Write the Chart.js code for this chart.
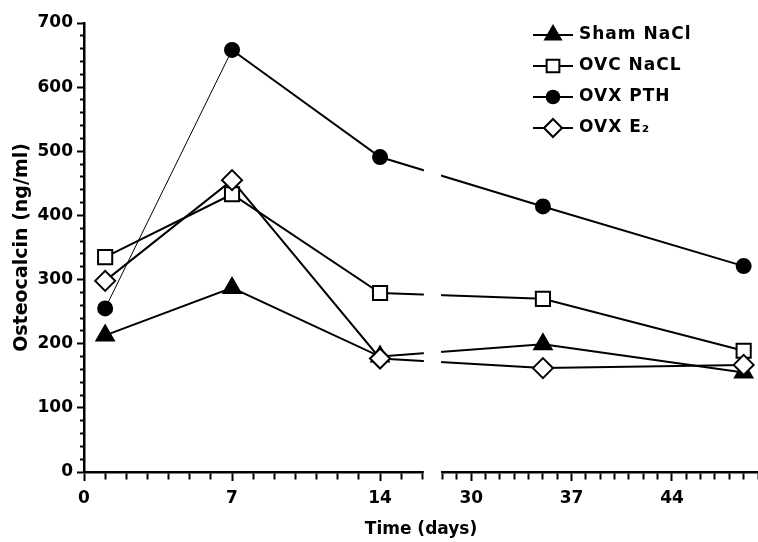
<!DOCTYPE html>
<html>
<head>
<meta charset="utf-8">
<script src="https://cdn.jsdelivr.net/npm/chart.js@4.4.1/dist/chart.umd.min.js"></script>
<style>
  html, body { margin: 0; padding: 0; background: #fff; }
  #wrap { position: relative; width: 758px; height: 542px; }
</style>
</head>
<body>
<div id="wrap"><canvas id="c"></canvas></div>
<script>
// ---- data ----
const days       = [1, 7, 14, 35, 49];
const shamNaCl   = [213, 287, 180, 199, 155];
const ovcNaCl    = [335, 433, 279, 270, 189];
const ovxPTH     = [255, 658, 491, 414, 321];
const ovxE2      = [298, 455, 177, 162, 167];
const seriesLabels = ['Sham NaCl', 'OVC NaCL', 'OVX PTH', 'OVX E\u2082'];

// axis structure
const xSegments   = [[0, 16], [28, 50]];      // broken time axis (days)
const xLabelled   = [0, 7, 14, 30, 37, 44];
const yLabelStep  = 100;
const yMinorStep  = 20;

// ---- broken linear scale ----
const SEG_FRAC = [[0, 0.502], [0.532, 1]];
function dayToDecimal(v) {
  const [a0, a1] = xSegments[0], [b0, b1] = xSegments[1];
  if (v <= a1) return SEG_FRAC[0][0] + (v - a0) / (a1 - a0) * (SEG_FRAC[0][1] - SEG_FRAC[0][0]);
  if (v >= b0) return SEG_FRAC[1][0] + (v - b0) / (b1 - b0) * (SEG_FRAC[1][1] - SEG_FRAC[1][0]);
  return SEG_FRAC[0][1] + (v - a1) / (b0 - a1) * (SEG_FRAC[1][0] - SEG_FRAC[0][1]);
}
function decimalToDay(d) {
  const [a0, a1] = xSegments[0], [b0, b1] = xSegments[1];
  if (d <= SEG_FRAC[0][1]) return a0 + d / SEG_FRAC[0][1] * (a1 - a0);
  if (d >= SEG_FRAC[1][0]) return b0 + (d - SEG_FRAC[1][0]) / (SEG_FRAC[1][1] - SEG_FRAC[1][0]) * (b1 - b0);
  return a1 + (d - SEG_FRAC[0][1]) / (SEG_FRAC[1][0] - SEG_FRAC[0][1]) * (b0 - a1);
}
class BrokenLinearScale extends Chart.LinearScale {
  getPixelForValue(value) {
    if (value === null || value === undefined || isNaN(value)) return NaN;
    return this.getPixelForDecimal(dayToDecimal(value));
  }
  getValueForPixel(pixel) {
    return decimalToDay(this.getDecimalForPixel(pixel));
  }
}
BrokenLinearScale.id = 'brokenLinear';
BrokenLinearScale.defaults = Chart.LinearScale.defaults;
Chart.register(BrokenLinearScale);

// ---- plugins ----
const gapPlugin = {
  id: 'axisGap',
  afterDatasetsDraw(chart) {
    const xs = chart.scales.x, ca = chart.chartArea, ctx = chart.ctx;
    const x1 = xs.getPixelForValue(xSegments[0][1]) + 1.5;
    const x2 = xs.getPixelForValue(xSegments[1][0]) - 1.5;
    ctx.save();
    ctx.fillStyle = '#fff';
    ctx.fillRect(x1, ca.top - 5, x2 - x1, ca.bottom - ca.top + 9);
    ctx.restore();
  }
};

const LEG = { x: 533, lineLen: 40, top: 35, gap: 31, textX: 579, scale: 0.9 };
const legendPlugin = {
  id: 'insetLegend',
  afterDraw(chart) {
    const ctx = chart.ctx;
    ctx.save();
    chart.data.datasets.forEach((ds, i) => {
      const y = LEG.top + i * LEG.gap;
      ctx.strokeStyle = '#000';
      ctx.lineWidth = 2;
      ctx.setLineDash([]);
      ctx.beginPath();
      ctx.moveTo(LEG.x, y);
      ctx.lineTo(LEG.x + LEG.lineLen, y);
      ctx.stroke();
      ctx.fillStyle = ds.pointBackgroundColor;
      ctx.lineWidth = ds.pointBorderWidth;
      Chart.helpers.drawPoint(ctx, {
        pointStyle: ds.pointStyle, radius: ds.pointRadius * LEG.scale,
        borderWidth: ds.pointBorderWidth, rotation: 0
      }, LEG.x + LEG.lineLen / 2, y);
      ctx.fillStyle = '#000';
      ctx.font = 'bold 17px "DejaVu Sans"';
      ctx.letterSpacing = '1px';
      ctx.textBaseline = 'middle';
      ctx.textAlign = 'left';
      ctx.fillText(ds.label, LEG.textX, y);
    });
    ctx.restore();
  }
};

// ---- chart ----
function mkSet(label, data, style, radius, bg, order, extra) {
  return Object.assign({
    label, data: days.map((d, i) => ({ x: d, y: data[i] })),
    borderColor: '#000', borderWidth: 2,
    pointStyle: style, pointRadius: radius, pointHoverRadius: radius,
    pointBackgroundColor: bg, pointBorderColor: '#000', pointBorderWidth: 2,
    fill: false, tension: 0, order
  }, extra || {});
}

Chart.defaults.font.family = '"DejaVu Sans", sans-serif';
Chart.defaults.font.weight = 'bold';
Chart.defaults.font.size = 17;
Chart.defaults.color = '#000';

new Chart(document.getElementById('c'), {
  type: 'line',
  data: {
    datasets: [
      mkSet(seriesLabels[0], shamNaCl, 'triangle', 10, '#000', 3),
      mkSet(seriesLabels[1], ovcNaCl, 'rect', 10, '#fff', 1),
      mkSet(seriesLabels[2], ovxPTH, 'circle', 7, '#000', 2, {
        segment: { borderWidth: c => c.p0DataIndex === 0 ? 1 : 2 }
      }),
      mkSet(seriesLabels[3], ovxE2, 'rectRot', 10, '#fff', 0)
    ]
  },
  options: {
    responsive: true,
    maintainAspectRatio: false,
    animation: false,
    layout: { autoPadding: false, padding: { top: 23, right: 0, bottom: 0, left: 0 } },
    plugins: { legend: { display: false }, tooltip: { enabled: false } },
    scales: {
      x: {
        type: 'brokenLinear',
        min: xSegments[0][0], max: xSegments[1][1],
        afterBuildTicks: (s) => {
          const t = [];
          xSegments.forEach(([a, b]) => { for (let d = a; d <= b; d++) t.push({ value: d }); });
          s.ticks = t;
        },
        afterFit: (s) => { s.height = 70; s.paddingRight = 0; s.paddingLeft = 0; },
        border: { color: '#000', width: 2.5 },
        grid: {
          drawOnChartArea: false, drawTicks: true, tickLength: 9,
          tickColor: '#000', tickWidth: 2,
          tickBorderDash: c => xLabelled.includes(c.tick.value) ? [] : [6, 20]
        },
        ticks: {
          autoSkip: false, maxRotation: 0, padding: 7,
          callback: v => xLabelled.includes(v) ? String(v) : ''
        },
        title: { display: true, text: 'Time (days)', padding: { top: 0, bottom: 2 } }
      },
      y: {
        min: 0, max: 700,
        afterFit: (s) => { s.width = 84; },
        border: { color: '#000', width: 2.5 },
        grid: {
          drawOnChartArea: false, drawTicks: true, tickLength: 7,
          tickColor: '#000', tickWidth: 2,
          tickBorderDash: c => (c.tick.value % yLabelStep === 0) ? [] : [4, 3],
          tickBorderDashOffset: c => (c.tick.value % yLabelStep === 0) ? 0 : 4
        },
        ticks: {
          stepSize: yMinorStep, autoSkip: false, padding: 4,
          callback: v => v % yLabelStep === 0 ? String(v) : ''
        },
        title: { display: true, text: 'Osteocalcin (ng/ml)', font: { size: 19 }, padding: { top: 11, bottom: 0 } }
      }
    }
  },
  plugins: [gapPlugin, legendPlugin]
});
</script>
</body>
</html>
